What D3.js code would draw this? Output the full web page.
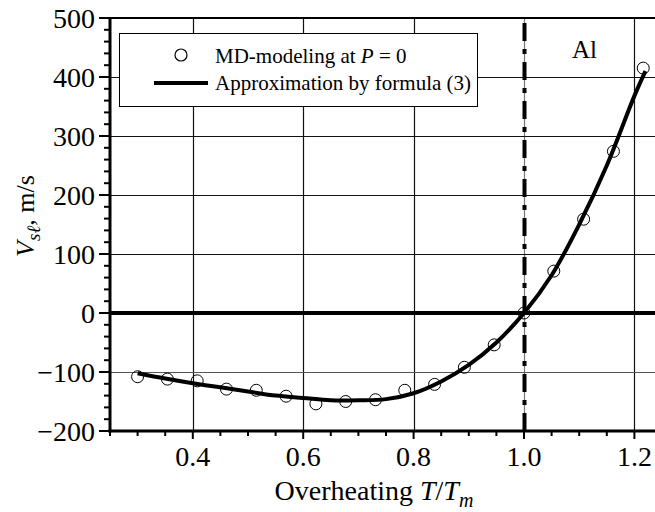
<!DOCTYPE html>
<html><head><meta charset="utf-8">
<script src="https://cdn.jsdelivr.net/npm/d3@7"></script>
<style>body{margin:0;background:#fff}svg{display:block}text{font-family:"Liberation Serif","Times New Roman",serif;fill:#000}</style>
</head><body><svg id="c" width="655" height="512"></svg>
<script>
// MD-modeling points
const mdX = [0.300,0.354,0.408,0.461,0.515,0.569,0.623,0.677,0.731,0.784,0.838,0.892,0.946,1.000,1.054,1.108,1.162,1.216];
const mdY = [-108,-112,-115,-129,-131,-141,-154,-150,-147,-131,-121,-92,-54,0,71,159,274,415];
// Approximation by formula (3)
const fitX = [0.30,0.35,0.40,0.45,0.50,0.55,0.60,0.65,0.70,0.75,0.80,0.85,0.90,0.95,1.00,1.05,1.10,1.15,1.20,1.22];
const fitY = [-102,-111,-119,-126,-133,-140,-144,-148,-148,-146,-136,-116,-88,-50,0,64,150,250,368,410];
const xTicks = [0.4,0.6,0.8,1.0,1.2];
const yTicks = [-200,-100,0,100,200,300,400,500];

const svg = d3.select("#c");
const L=110, R=662, T=18, B=431;
const x = d3.scaleLinear().domain([0.25,1.25]).range([L,R]);
const y = d3.scaleLinear().domain([-200,500]).range([B,T]);

// grid
const g = svg.append("g");
xTicks.forEach(v=>{ g.append("line").attr("x1",Math.round(x(v))+0.5).attr("x2",Math.round(x(v))+0.5).attr("y1",T).attr("y2",B).attr("stroke",v===1.0?"#777":"#111").attr("stroke-width",1.2); });
yTicks.filter(v=>v!==0&&v!==500&&v!==-200).forEach(v=>{ g.append("line").attr("y1",Math.round(y(v))+0.5).attr("y2",Math.round(y(v))+0.5).attr("x1",L).attr("x2",R).attr("stroke",v===-100?"#555":"#111").attr("stroke-width",1.2); });

// zero line
svg.append("line").attr("x1",L).attr("x2",R).attr("y1",y(0)).attr("y2",y(0)).attr("stroke","#000").attr("stroke-width",4);
// Tm dash-dot line
svg.append("line").attr("x1",x(1.0)+0.5).attr("x2",x(1.0)+0.5).attr("y1",B).attr("y2",T).attr("stroke","#000").attr("stroke-width",4).attr("stroke-dasharray","18,8,5,8");

// axes
const yMinor = d3.range(-200,501,20);
svg.append("g").selectAll("line").data(yMinor).join("line")
  .attr("x1",L).attr("x2",d=>L-(d%100===0?11:6)).attr("y1",d=>y(d)).attr("y2",d=>y(d)).attr("stroke","#000").attr("stroke-width",2);
const xMinor = d3.range(0,21).map(i=>+(0.25+i*0.05).toFixed(2));
svg.append("g").selectAll("line").data(xMinor).join("line")
  .attr("y1",B).attr("y2",d=>B+(Math.abs(d*10-Math.round(d*10))<1e-6 && Math.round(d*10)%2===0?8:5)).attr("x1",d=>x(d)).attr("x2",d=>x(d)).attr("stroke","#000").attr("stroke-width",2);
svg.append("line").attr("x1",L).attr("x2",R).attr("y1",T).attr("y2",T).attr("stroke","#000").attr("stroke-width",2);
svg.append("line").attr("x1",L).attr("x2",L).attr("y1",T-1).attr("y2",B+1.5).attr("stroke","#000").attr("stroke-width",3);
svg.append("line").attr("x1",L-1.5).attr("x2",R).attr("y1",B).attr("y2",B).attr("stroke","#000").attr("stroke-width",3);

// tick labels
const fmtY = d=> d<0 ? "\u2212"+Math.abs(d) : String(d);
svg.append("g").selectAll("text").data(yTicks).join("text")
  .attr("x",95).attr("y",d=>y(d)+9.5).attr("text-anchor","end").attr("font-size",28).text(fmtY);
svg.append("g").selectAll("text").data(xTicks).join("text")
  .attr("x",d=>x(d)).attr("y",466).attr("text-anchor","middle").attr("font-size",28).text(d=>d.toFixed(1));

// fit curve
const line = d3.line().x((d,i)=>x(fitX[i])).y((d,i)=>y(fitY[i])).curve(d3.curveCatmullRom);
svg.append("path").datum(fitX).attr("d",line).attr("fill","none").attr("stroke","#000").attr("stroke-width",4).attr("stroke-linejoin","round");
// points
svg.append("g").selectAll("circle").data(mdX).join("circle")
  .attr("cx",d=>x(d)).attr("cy",(d,i)=>y(mdY[i])).attr("r",6).attr("fill","none").attr("stroke","#000").attr("stroke-width",1);

// Al label
svg.append("text").attr("x",572).attr("y",58).attr("font-size",25).text("Al");

// legend
const lg = svg.append("g");
lg.append("rect").attr("x",119.5).attr("y",33.5).attr("width",358).attr("height",73).attr("fill","#fff").attr("stroke","#000").attr("stroke-width",1);
lg.append("circle").attr("cx",181).attr("cy",55).attr("r",6).attr("fill","none").attr("stroke","#000").attr("stroke-width",1.2);
lg.append("line").attr("x1",154).attr("x2",208).attr("y1",83).attr("y2",83).attr("stroke","#000").attr("stroke-width",4);
const t1 = lg.append("text").attr("x",215).attr("y",63).attr("font-size",21);
t1.append("tspan").text("MD-modeling at ");
t1.append("tspan").attr("font-style","italic").text("P");
t1.append("tspan").text(" = 0");
lg.append("text").attr("x",215).attr("y",90).attr("font-size",21).text("Approximation by formula (3)");

// axis titles
const xt = svg.append("text").attr("x",374).attr("y",500).attr("text-anchor","middle").attr("font-size",28);
xt.append("tspan").text("Overheating ");
xt.append("tspan").attr("font-style","italic").text("T");
xt.append("tspan").text("/");
xt.append("tspan").attr("font-style","italic").text("T");
xt.append("tspan").attr("font-style","italic").attr("font-size",20).attr("dy",7).text("m");

const yt = svg.append("text").attr("transform","translate(34,216) rotate(-90)").attr("text-anchor","middle").attr("font-size",26);
yt.append("tspan").attr("font-style","italic").text("V");
yt.append("tspan").attr("font-style","italic").attr("font-size",19).attr("dy",6).text("s\u2113");
yt.append("tspan").attr("dy",-6).text(", m/s");
</script></body></html>
